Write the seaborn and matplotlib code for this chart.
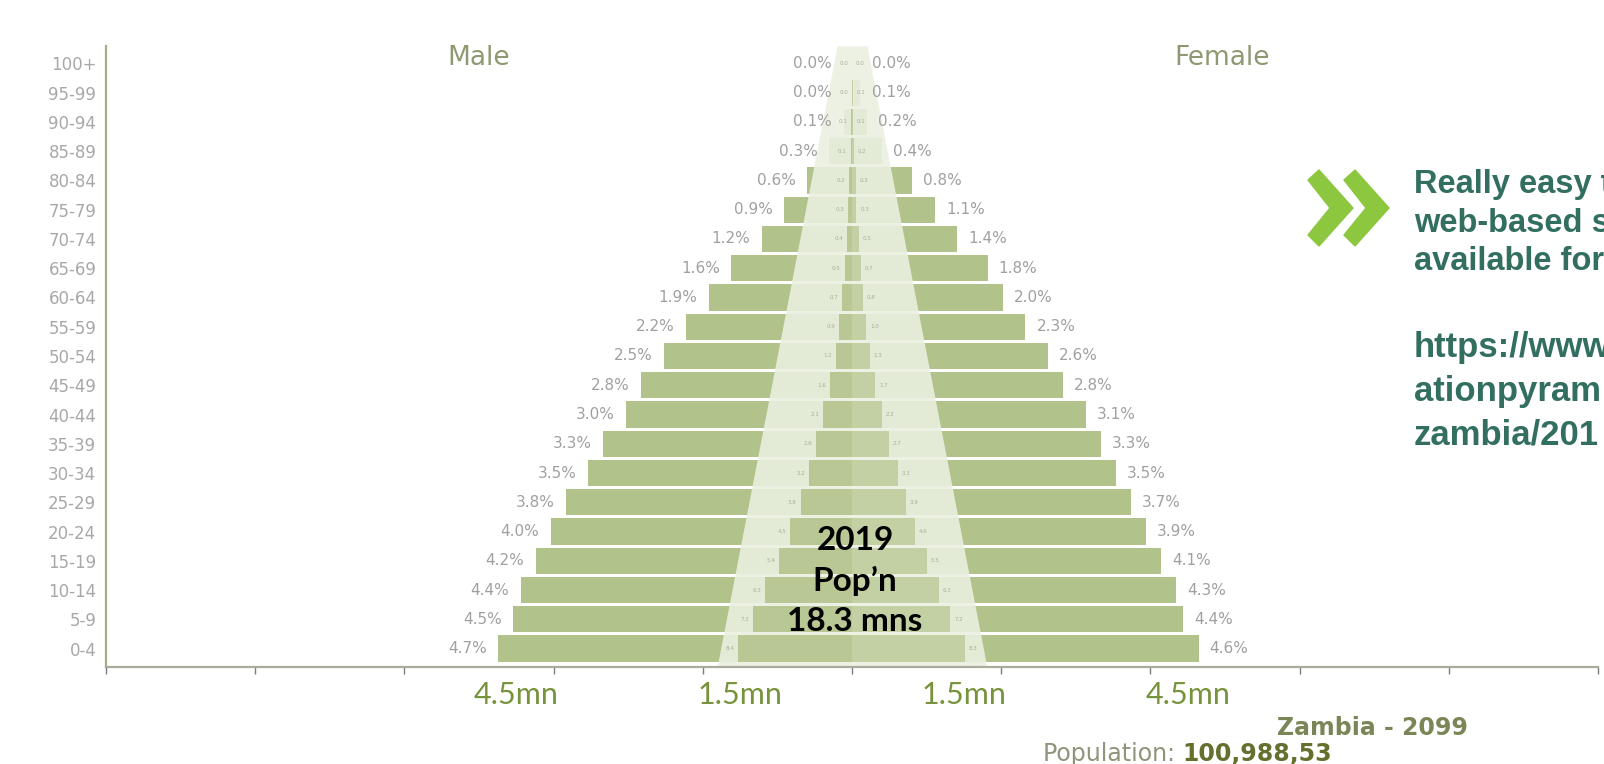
import numpy as np
import pandas as pd
import matplotlib.pyplot as plt
import seaborn as sns
from matplotlib.patches import Polygon

sns.set_theme(style='white')
plt.rcParams['font.family'] = ['DejaVu Sans']

# age groups, top to bottom
ages = ['100+', '95-99', '90-94', '85-89', '80-84', '75-79', '70-74', '65-69',
        '60-64', '55-59', '50-54', '45-49', '40-44', '35-39', '30-34', '25-29',
        '20-24', '15-19', '10-14', '5-9', '0-4']

# 2100 projection, % of total population (outer pyramid)
male_pct = [0.0, 0.0, 0.1, 0.3, 0.6, 0.9, 1.2, 1.6, 1.9, 2.2, 2.5, 2.8, 3.0,
            3.3, 3.5, 3.8, 4.0, 4.2, 4.4, 4.5, 4.7]
female_pct = [0.0, 0.1, 0.2, 0.4, 0.8, 1.1, 1.4, 1.8, 2.0, 2.3, 2.6, 2.8, 3.1,
              3.3, 3.5, 3.7, 3.9, 4.1, 4.3, 4.4, 4.6]
total_2100 = 100.988  # millions

# 2019 pyramid, millions (inner pyramid)
male_2019 = [0.0, 0.0, 0.01, 0.02, 0.04, 0.05, 0.07, 0.10, 0.13, 0.17, 0.22,
             0.30, 0.39, 0.48, 0.58, 0.69, 0.83, 0.98, 1.16, 1.33, 1.53]
female_2019 = [0.0, 0.01, 0.01, 0.03, 0.05, 0.06, 0.09, 0.12, 0.15, 0.19, 0.24,
               0.31, 0.40, 0.50, 0.61, 0.72, 0.85, 1.00, 1.16, 1.32, 1.51]
total_2019 = 18.3

tick_vals = [-4.5, -1.5, 1.5, 4.5]
tick_text = ['4.5mn', '1.5mn', '1.5mn', '4.5mn']

OUTER = '#b2c28b'
INNER_M = '#b8c794'
INNER_F = '#c3d0a3'
BAND = '#ebf0e0'

df = pd.DataFrame({
    'age': ages,
    'm100': -np.array(male_pct) * total_2100 / 100,
    'f100': np.array(female_pct) * total_2100 / 100,
    'm19': -np.array(male_2019),
    'f19': np.array(female_2019),
})

W, H = 1604, 764
fig = plt.figure(figsize=(W / 100, H / 100), dpi=100)
ax = fig.add_axes([106 / W, 1 - 667 / H, 1492 / W, (667 - 46) / H])

sns.barplot(data=df, x='m100', y='age', order=ages, orient='h', color=OUTER,
            saturation=1, width=0.9, ax=ax, zorder=1, linewidth=0)
sns.barplot(data=df, x='f100', y='age', order=ages, orient='h', color=OUTER,
            saturation=1, width=0.9, ax=ax, zorder=1, linewidth=0)

# light wash of the pasted 2019 pyramid
yy = np.array([-0.6, 20.65])
half = np.array([0.2, 1.81])
ax.fill_betweenx(yy, -half, half, color=BAND, alpha=0.88, lw=0, zorder=2)

sns.barplot(data=df, x='m19', y='age', order=ages, orient='h', color=INNER_M,
            saturation=1, width=0.9, ax=ax, zorder=3, linewidth=0)
sns.barplot(data=df, x='f19', y='age', order=ages, orient='h', color=INNER_F,
            saturation=1, width=0.9, ax=ax, zorder=3, linewidth=0)

# percentage labels
for i in range(len(ages)):
    m = male_pct[i] * total_2100 / 100
    f = female_pct[i] * total_2100 / 100
    ax.text(-(max(m, 0.12) + 0.15), i, f'{male_pct[i]:.1f}%', ha='right',
            va='center', fontsize=11, color='#a0a0a0', zorder=4)
    ax.text(max(f, 0.12) + 0.15, i, f'{female_pct[i]:.1f}%', ha='left',
            va='center', fontsize=11, color='#a0a0a0', zorder=4)
    # tiny labels of the shrunk 2019 chart
    ax.text(-(male_2019[i] + 0.05), i, f'{male_2019[i] / total_2019 * 100:.1f}',
            ha='right', va='center', fontsize=4, color='#a9ae98', zorder=4)
    ax.text(female_2019[i] + 0.05, i, f'{female_2019[i] / total_2019 * 100:.1f}',
            ha='left', va='center', fontsize=4, color='#a9ae98', zorder=4)

ax.set_xlim(-10, 10)
ax.set_ylim(20.63, -0.595)
ax.set_xlabel('')
ax.set_ylabel('')
ax.set_yticks(range(len(ages)))
ax.set_yticklabels(ages, fontsize=12, color='#a8a8a8')
ax.tick_params(axis='y', length=0, pad=7)

ax.set_xticks(tick_vals)
ax.set_xticklabels(tick_text, fontsize=22, color='#77933c', family='Lato')
ax.set_xticks(np.arange(-10, 11, 2), minor=True)
ax.tick_params(axis='x', which='major', length=0, pad=10)
ax.tick_params(axis='x', which='minor', length=5, color='#7d7d7d',
               direction='out', bottom=True)

for s in ['top', 'right']:
    ax.spines[s].set_visible(False)
ax.spines['left'].set_color('#a5ae88')
ax.spines['left'].set_linewidth(1.6)
ax.spines['bottom'].set_color('#a9ab9c')
ax.spines['bottom'].set_linewidth(1.6)
ax.grid(False)


def fx(x):
    return x / W


def fy(y):
    return 1 - y / H


fig.text(fx(479), fy(58), 'Male', ha='center', va='center', fontsize=19,
         color='#8e9871')
fig.text(fx(1222), fy(58), 'Female', ha='center', va='center', fontsize=19,
         color='#8e9871')

fig.text(fx(855), fy(581), '2019\nPop\u2019n\n18.3 mns', ha='center',
         va='center', fontsize=24, fontweight='bold', family='Lato',
         color='black', linespacing=1.45, zorder=5)

# chevrons
for dx in (0, 36):
    pts = [(1308, 180), (1319, 170), (1353, 208), (1319, 246), (1308, 235),
           (1330, 208)]
    pts = [(fx(x + dx), fy(y)) for x, y in pts]
    fig.patches.append(Polygon(pts, closed=True, color='#8dc63f',
                               transform=fig.transFigure))

teal = '#336f61'
for k, line in enumerate(['Really easy t', 'web-based s', 'available for']):
    fig.text(fx(1414), fy(184 + 39 * k), line, ha='left', va='center',
             fontsize=23.5, fontweight='bold', color=teal,
             family='Liberation Sans')
for k, line in enumerate(['https://www', 'ationpyram', 'zambia/201']):
    fig.text(fx(1414), fy(347 + 44 * k), line, ha='left', va='center',
             fontsize=25, fontweight='bold', color=teal,
             family='Liberation Sans')

fig.text(fx(1277), fy(728), 'Zambia - 2099', ha='left', va='center',
         fontsize=17, fontweight='bold', color='#7b8656')
pop = fig.text(fx(1043), fy(754), 'Population: ', ha='left', va='center',
               fontsize=17, color='#8f957a')
fig.canvas.draw()
bb = pop.get_window_extent()
fig.text(bb.x1 / W, fy(754), '100,988,53', ha='left', va='center',
         fontsize=17, fontweight='bold', color='#65702f')

fig.savefig('out.png', dpi=100, facecolor='white')
